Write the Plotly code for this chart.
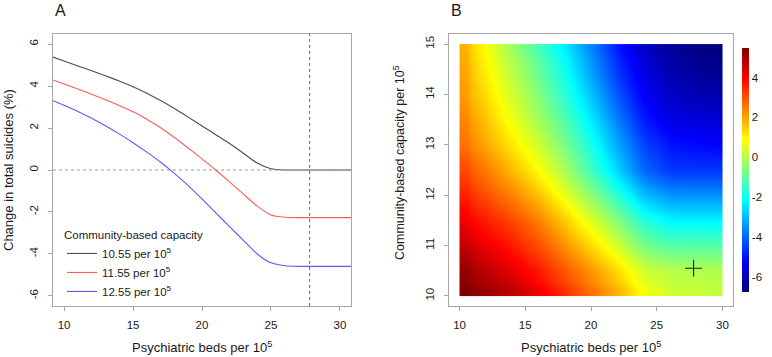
import plotly.graph_objects as go

# ---------------- Data ----------------
# Panel A: change in total suicides (%) vs psychiatric beds, for three community capacities
beds = [9.2, 10, 11, 12, 13, 14, 15, 16, 17, 18, 19, 20, 21, 22, 23, 24, 25, 26, 27, 28, 29, 30, 30.8]
change_1055 = [5.38, 5.19, 4.96, 4.73, 4.49, 4.24, 3.97, 3.66, 3.31, 2.93, 2.52, 2.10, 1.68, 1.26,
               0.80, 0.33, 0.06, 0.0, 0.0, 0.0, 0.0, 0.0, 0.0]
change_1155 = [4.29, 4.10, 3.86, 3.61, 3.35, 3.07, 2.77, 2.42, 2.01, 1.55, 1.05, 0.53, 0.0, -0.57,
               -1.15, -1.72, -2.14, -2.25, -2.27, -2.27, -2.27, -2.27, -2.27]
change_1255 = [3.30, 3.08, 2.79, 2.47, 2.11, 1.72, 1.30, 0.85, 0.37, -0.16, -0.74, -1.38, -2.04, -2.70,
               -3.35, -4.00, -4.42, -4.56, -4.59, -4.59, -4.59, -4.59, -4.59]
series_names = ["10.55 per 10<sup>5</sup>", "11.55 per 10<sup>5</sup>", "12.55 per 10<sup>5</sup>"]
series_colors = ["#4d4d4d", "#ff5a5a", "#5a5aff"]
current_beds = 27.8
current_capacity = 10.55

# Panel B: surface of change (%) over beds (x) and community capacity (y)
grid_beds = [10, 12, 14, 16, 18, 20, 22, 24, 26, 28, 30]
grid_capacity = [10, 10.5, 11, 11.5, 12, 12.5, 13, 13.5, 14, 14.5, 15]
surface = [
    [5.48, 5.20, 4.75, 4.12, 3.40, 2.60, 1.80, 0.80, 0.30, 0.20, 0.15],      # 10
    [5.22, 4.74, 4.26, 3.65, 2.92, 2.14, 1.33, 0.36, 0.02, 0.0, 0.0],       # 10.5
    [4.66, 4.17, 3.66, 3.02, 2.21, 1.33, 0.37, -0.70, -1.12, -1.13, -1.13],  # 11
    [4.12, 3.62, 3.08, 2.42, 1.52, 0.53, -0.57, -1.72, -2.25, -2.27, -2.27], # 11.5
    [3.60, 3.04, 2.39, 1.64, 0.68, -0.44, -1.64, -2.88, -3.41, -3.43, -3.43],# 12
    [3.10, 2.47, 1.72, 0.88, -0.13, -1.38, -2.68, -3.98, -4.54, -4.57, -4.57],# 12.5
    [2.60, 1.95, 1.15, 0.30, -0.70, -1.90, -3.20, -4.40, -5.00, -5.15, -5.20],# 13
    [2.35, 1.60, 0.70, -0.20, -1.20, -2.40, -3.70, -4.90, -5.50, -5.65, -5.70],# 13.5
    [2.10, 1.30, 0.35, -0.60, -1.65, -2.90, -4.20, -5.30, -5.90, -6.10, -6.20],# 14
    [1.95, 1.05, 0.05, -0.95, -2.00, -3.30, -4.60, -5.60, -6.20, -6.45, -6.55],# 14.5
    [1.85, 0.85, -0.25, -1.30, -2.35, -3.60, -4.90, -5.85, -6.40, -6.65, -6.75],# 15
]
yA_ticks = [-6, -4, -2, 0, 2, 4, 6]
x_ticks = [10, 15, 20, 25, 30]
yB_ticks = [10, 11, 12, 13, 14, 15]
cb_ticks = [-6, -4, -2, 0, 2, 4]

# ---------------- Figure ----------------
W, H = 772, 357
FONT = "Liberation Sans, Arial, sans-serif"
TXT = "#1a1a1a"
BOX = "#a6a6a6"


def edges(c):
    e = [c[0]]
    for a, b in zip(c[:-1], c[1:]):
        e.append((a + b) / 2)
    e.append(c[-1])
    return e


fig = go.Figure()

for vals, name, col in zip([change_1055, change_1155, change_1255], series_names, series_colors):
    fig.add_trace(go.Scatter(x=beds, y=vals, mode="lines", name=name,
                             line=dict(color=col, width=1.1, shape="spline", smoothing=0.6),
                             xaxis="x", yaxis="y"))

jet = ["#00007F", "#0000FF", "#007FFF", "#00FFFF", "#7FFF7F", "#FFFF00", "#FF7F00", "#FF0000", "#7F0000"]
cscale = [[i / 8, c] for i, c in enumerate(jet)]

fig.add_trace(go.Heatmap(
    x=edges(grid_beds), y=edges(grid_capacity), z=surface,
    colorscale=cscale, zmin=-6.75, zmax=5.48, zsmooth="best",
    xaxis="x2", yaxis="y2", showlegend=False,
    colorbar=dict(thickness=7, len=(292 - 48) / H, lenmode="fraction",
                  x=742 / W, xanchor="left", y=1 - 170 / H, yanchor="middle",
                  outlinewidth=0, ticks="", tickvals=cb_ticks,
                  ticktext=[str(v) for v in cb_ticks],
                  tickfont=dict(family=FONT, size=11.5, color=TXT), xpad=0, ypad=0),
))

fig.add_trace(go.Scatter(x=[current_beds], y=[current_capacity], mode="markers",
                         marker=dict(symbol="cross-thin", size=12, line=dict(color="#1a1a1a", width=1.1)),
                         xaxis="x2", yaxis="y2", showlegend=False))

ydom = [1 - 306 / H, 1 - 34 / H]
axis_common = dict(showgrid=False, zeroline=False, showline=True, mirror=True,
                   linecolor=BOX, linewidth=1, ticks="outside", ticklen=4,
                   tickcolor=BOX, tickfont=dict(family=FONT, size=11.5, color=TXT))

fig.update_layout(
    width=W, height=H, margin=dict(l=0, r=0, t=0, b=0),
    paper_bgcolor="white", plot_bgcolor="white",
    font=dict(family=FONT, color=TXT),
    xaxis=dict(domain=[53 / W, 351 / W], range=[9.2, 30.8], tickvals=x_ticks,
               anchor="y", ticklabelstandoff=4, **axis_common),
    yaxis=dict(domain=ydom, range=[-6.48, 6.48], tickvals=yA_ticks,
               ticktext=[str(v) for v in yA_ticks], tickangle=-90, anchor="x",
               ticklabelstandoff=5, **axis_common),
    xaxis2=dict(domain=[449 / W, 733 / W], range=[9.2, 30.8], tickvals=x_ticks,
                anchor="y2", ticklabelstandoff=4, **axis_common),
    yaxis2=dict(domain=ydom, range=[9.8, 15.2], tickvals=yB_ticks, tickangle=-90,
                anchor="x2", ticklabelstandoff=5, **axis_common),
    showlegend=True,
    legend=dict(x=62 / W, xanchor="left", y=1 - 224 / H, yanchor="top",
                bgcolor="rgba(0,0,0,0)", font=dict(family=FONT, size=11.5, color=TXT),
                title=dict(text="Community-based capacity", font=dict(family=FONT, size=11.5, color=TXT)),
                tracegroupgap=0),
)

fig.add_vline(x=current_beds, line=dict(color="#666666", width=1, dash="dot"), xref="x", yref="y")
fig.add_hline(y=0, line=dict(color="#9a9a9a", width=1, dash="dot"), xref="x", yref="y")

ann = []
ann.append(dict(text="A", x=53 / W, y=1 - 10 / H, xref="paper", yref="paper", xanchor="left",
                yanchor="middle", showarrow=False, font=dict(family=FONT, size=16, color=TXT)))
ann.append(dict(text="B", x=449 / W, y=1 - 10 / H, xref="paper", yref="paper", xanchor="left",
                yanchor="middle", showarrow=False, font=dict(family=FONT, size=16, color=TXT)))
ann.append(dict(text="Psychiatric beds per 10<sup>5</sup>", x=202 / W, y=1 - 347 / H, xref="paper",
                yref="paper", xanchor="center", yanchor="middle", showarrow=False,
                font=dict(family=FONT, size=13, color=TXT)))
ann.append(dict(text="Psychiatric beds per 10<sup>5</sup>", x=591 / W, y=1 - 347 / H, xref="paper",
                yref="paper", xanchor="center", yanchor="middle", showarrow=False,
                font=dict(family=FONT, size=13, color=TXT)))
ann.append(dict(text="Change in total suicides (%)", x=8 / W, y=1 - 170 / H, xref="paper",
                yref="paper", xanchor="center", yanchor="middle", textangle=-90, showarrow=False,
                font=dict(family=FONT, size=13, color=TXT)))
ann.append(dict(text="Community-based capacity per 10<sup>5</sup>", x=399 / W, y=1 - 162 / H,
                xref="paper", yref="paper", xanchor="center", yanchor="middle", textangle=-90,
                showarrow=False, font=dict(family=FONT, size=12.5, color=TXT)))
fig.update_layout(annotations=ann)

fig.write_html("out.html", config={"displayModeBar": False},
               post_script="document.body.style.margin='0';document.body.style.overflow='hidden';")
